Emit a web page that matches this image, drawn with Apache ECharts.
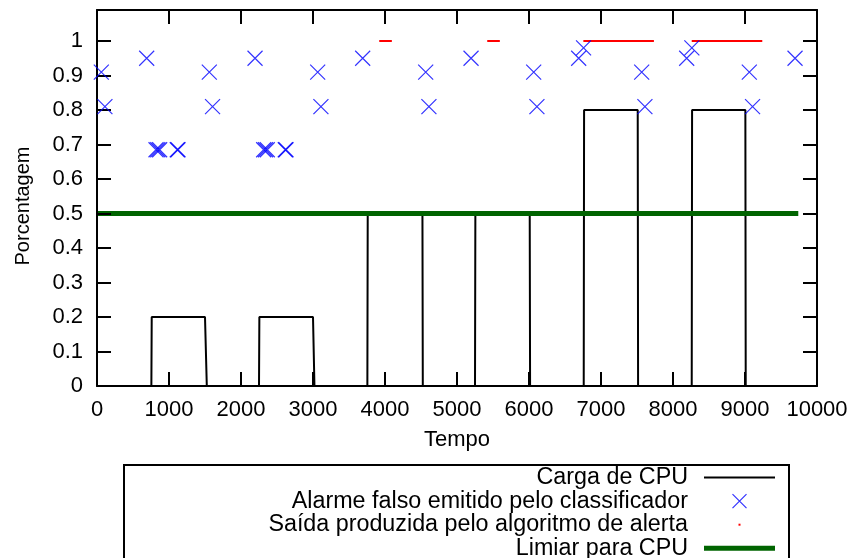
<!DOCTYPE html>
<html>
<head>
<meta charset="utf-8">
<script src="https://cdn.jsdelivr.net/npm/echarts@6/dist/echarts.min.js"></script>
<style>
  html, body { margin: 0; background: #fff; }
  #chart { width: 854px; height: 558px; }
</style>
</head>
<body>
<div id="chart"></div>
<script>
var xTicks = [0, 1000, 2000, 3000, 4000, 5000, 6000, 7000, 8000, 9000, 10000]
var yTicks = [0, 0.1, 0.2, 0.3, 0.4, 0.5, 0.6, 0.7, 0.8, 0.9, 1]

// carga de CPU (tempo, porcentagem)
var cpuLoad = [
  [0, 0], [755, 0], [760, 0.2], [1500, 0.2], [1525, 0],
  [2250, 0], [2255, 0.2], [3000, 0.2], [3020, 0],
  [3755, 0], [3760, 0.5], [4520, 0.5], [4525, 0],
  [5250, 0], [5255, 0.5], [6010, 0.5], [6015, 0],
  [6760, 0], [6765, 0.8], [7510, 0.8], [7515, 0],
  [8260, 0], [8265, 0.8], [9005, 0.8], [9010, 0], [9760, 0]
]

// alarmes falsos do classificador
var falseAlarms = [
  [60, 0.91], [110, 0.81], [690, 0.95], [820, 0.685], [845, 0.685], [870, 0.685],
  [1115, 0.685], [1125, 0.685], [1560, 0.91], [1605, 0.81], [2195, 0.95],
  [2315, 0.685], [2340, 0.685], [2365, 0.685], [2615, 0.685], [2625, 0.685],
  [3065, 0.91], [3110, 0.81], [3690, 0.95], [4565, 0.91], [4610, 0.81],
  [5195, 0.95], [6065, 0.91], [6110, 0.81], [6690, 0.95], [6758, 0.98],
  [7565, 0.91], [7610, 0.81], [8190, 0.95], [8262, 0.98], [9060, 0.91],
  [9105, 0.81], [9695, 0.95]
]

// saida do algoritmo de alerta: [inicio, fim, valor]
var alertOutput = [
  [0, 3920, 0], [3920, 4095, 1], [4095, 5420, 0], [5420, 5595, 1],
  [5595, 6755, 0], [6755, 7735, 1], [7735, 8260, 0], [8260, 9240, 1],
  [9240, 9760, 0]
]

var threshold = [[0, 0.5], [9740, 0.5]]

var font = 'Liberation Sans'

var alertData = []
alertOutput.forEach(function (s) {
  alertData.push([s[0], s[2]], [s[1], s[2]], [s[1], '-'])
})

var chart = echarts.init(document.getElementById('chart'))

var xProto = {
  type: 'value',
  min: 0,
  max: 10000,
  z: 10,
  splitLine: { show: false },
  axisLine: { onZero: false, lineStyle: { color: '#000', width: 2 } },
  axisTick: { inside: true, length: 14, customValues: xTicks, lineStyle: { color: '#000', width: 2 } }
}
var yProto = {
  type: 'value',
  min: 0,
  max: 1.09,
  z: 10,
  splitLine: { show: false },
  axisLine: { onZero: false, lineStyle: { color: '#000', width: 2 } },
  axisTick: { inside: true, length: 14, customValues: yTicks, lineStyle: { color: '#000', width: 2 } }
}

chart.setOption({
  animation: false,
  textStyle: { fontFamily: font },
  grid: { left: 97, right: 37, top: 10, bottom: 172 },
  xAxis: [
    Object.assign({}, xProto, {
      position: 'bottom',
      name: 'Tempo',
      nameLocation: 'middle',
      nameGap: 43,
      nameTextStyle: { color: '#000', fontSize: 22, fontFamily: font },
      axisLabel: {
        customValues: xTicks, color: '#000', fontSize: 22, fontFamily: font, margin: 13,
        formatter: function (v) { return String(v) }
      }
    }),
    Object.assign({}, xProto, { position: 'top', axisLabel: { show: false } })
  ],
  yAxis: [
    Object.assign({}, yProto, {
      position: 'left',
      name: 'Porcentagem',
      nameLocation: 'middle',
      nameGap: 64,
      nameTextStyle: { color: '#000', fontSize: 20, fontFamily: font, padding: [0, 16, 0, 0] },
      axisLabel: {
        customValues: yTicks, color: '#000', fontSize: 22, fontFamily: font, margin: 14,
        formatter: function (v) { return String(+v.toFixed(2)) }
      }
    }),
    Object.assign({}, yProto, { position: 'right', axisLabel: { show: false } })
  ],
  legend: {
    type: 'plain',
    orient: 'vertical',
    left: 124,
    top: 465,
    height: 300,
    align: 'right',
    padding: [1, 14, 40, 10],
    borderColor: '#000',
    borderWidth: 2,
    itemWidth: 71,
    itemHeight: 14,
    itemGap: 0.6,
    selectedMode: false,
    textStyle: { color: '#000', fontSize: 23.3, fontFamily: font, width: 554, align: 'right', lineHeight: 23, padding: [0, 11, 0, 0] },
    data: [
      { name: 'Carga de CPU', icon: 'path://M0,0M71,14M0,6h71v2h-71z',
        itemStyle: { color: '#000', borderWidth: 0 } },
      { name: 'Alarme falso emitido pelo classificador', icon: 'path://M0,0L14,14M14,0L0,14',
        itemStyle: { color: 'transparent', borderColor: '#0000ff', borderWidth: 1.2 } },
      { name: 'Saída produzida pelo algoritmo de alerta', icon: 'path://M0,0M14,14M6,6h2v2h-2z',
        itemStyle: { color: '#ff0000', borderWidth: 0 } },
      { name: 'Limiar para CPU', icon: 'path://M0,0M71,14M0,4.5h71v5h-71z',
        itemStyle: { color: '#006400', borderWidth: 0 } }
    ]
  },
  series: [
    {
      name: 'Carga de CPU',
      type: 'line',
      data: cpuLoad,
      symbol: 'none',
      symbolKeepAspect: true,
      color: '#000',
      lineStyle: { color: '#000', width: 2 },
      z: 3
    },
    {
      name: 'Alarme falso emitido pelo classificador',
      type: 'scatter',
      data: falseAlarms,
      symbol: 'path://M0,0L14,14M14,0L0,14',
      symbolSize: 15,
      symbolKeepAspect: true,
      itemStyle: { color: 'transparent', borderColor: '#0000ff', borderWidth: 1.2 },
      z: 20
    },
    {
      name: 'Saída produzida pelo algoritmo de alerta',
      type: 'line',
      data: alertData,
      symbol: 'none',
      connectNulls: false,
      symbolKeepAspect: true,
      color: '#ff0000',
      lineStyle: { color: '#ff0000', width: 2 },
      z: 4
    },
    {
      name: 'Limiar para CPU',
      type: 'line',
      data: threshold,
      symbol: 'none',
      symbolKeepAspect: true,
      color: '#006400',
      lineStyle: { color: '#006400', width: 5 },
      z: 5
    }
  ]
})
</script>
</body>
</html>
